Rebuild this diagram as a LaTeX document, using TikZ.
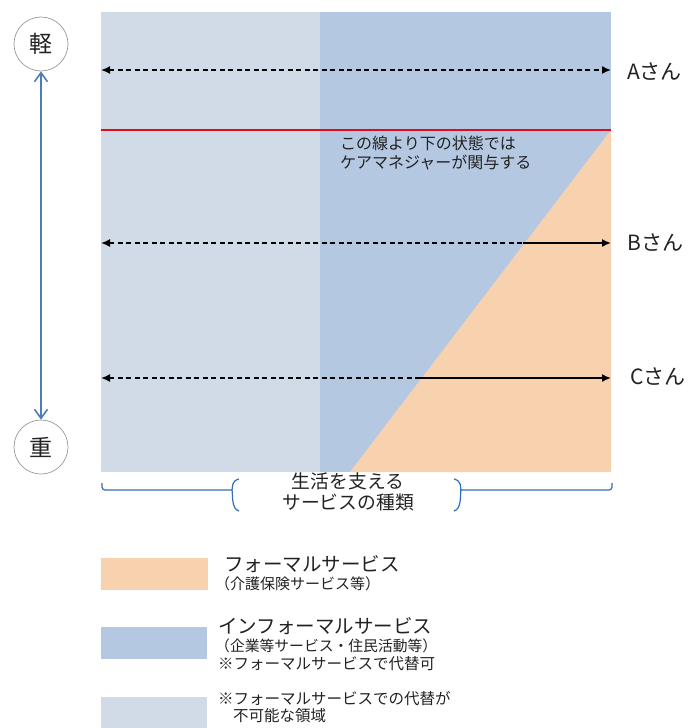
\documentclass[tikz,border=0pt]{standalone}
\usepackage{fontspec}
\setmainfont{Noto Sans CJK JP}
\usetikzlibrary{arrows.meta}
\definecolor{lightarea}{HTML}{D1DBE7}
\definecolor{bluearea}{HTML}{B5C8E2}
\definecolor{orangearea}{HTML}{F8D2AF}
\definecolor{redline}{HTML}{E30A1E}
\definecolor{axisblue}{HTML}{4A7EBB}
\definecolor{bracecol}{HTML}{2F6EB5}
\definecolor{txt}{HTML}{222222}
\tikzset{
  fs/.style 2 args={font=\fontsize{#1}{#2}\selectfont},
  lvl/.style={circle, draw=black!40, line width=0.7pt, minimum size=54pt, inner sep=0pt, fill=white, text=txt, fs={23}{26}},
  patarrow/.style={line width=1.6pt, black},
  tip/.style={-{Latex[length=9pt,width=8pt]}},
  lbl/.style={anchor=west, text=txt, inner sep=0pt},
  leg/.style={anchor=north west, text=txt, inner sep=0pt, align=left},
}
\begin{document}
\begin{tikzpicture}[x=1pt,y=-1pt]
\useasboundingbox (0,0) rectangle (692,728);
% areas
\fill[lightarea] (101,12) rectangle (320,472);
\fill[bluearea] (320,12) rectangle (611,472);
\fill[orangearea] (611,130) -- (350,472) -- (611,472) -- cycle;
% red line
\coordinate (rl) at (101,130);
\coordinate (rr) at (611,130);
\draw[redline, line width=2.2pt] (rl) -- (rr);
\node[lbl, anchor=north west, align=left, fs={16}{18.5}] (note) at (340,136) {この線より下の状態では\\ケアマネジャーが関与する};
% level axis
\node[lvl] (light) at (41,44) {軽};
\node[lvl] (heavy) at (41,447) {重};
\draw[axisblue, line width=1.6pt, {Straight Barb[length=9pt,width=13pt]}-{Straight Barb[length=9pt,width=13pt]}] (light) -- (heavy);
% person arrows
\coordinate (al) at (101,70); \coordinate (ar) at (611,70);
\coordinate (bl) at (101,243); \coordinate (bm) at (523,243); \coordinate (br) at (611,243);
\coordinate (cl) at (101,378); \coordinate (cm) at (416,378); \coordinate (cr) at (611,378);
\draw[patarrow, dash pattern=on 5pt off 3.5pt, {Latex[length=9pt,width=8pt]}-{Latex[length=9pt,width=8pt]}] (al) -- (ar);
\draw[patarrow, dash pattern=on 5pt off 3.5pt, {Latex[length=9pt,width=8pt]}-] (bl) -- (bm);
\draw[patarrow, tip] (bm) -- (br);
\draw[patarrow, dash pattern=on 5pt off 3.5pt, {Latex[length=9pt,width=8pt]}-] (cl) -- (cm);
\draw[patarrow, tip] (cm) -- (cr);
\node[lbl, fs={21}{24}] (pa) at (627,72) {Aさん};
\node[lbl, fs={21}{24}] (pb) at (627,243) {Bさん};
\node[lbl, fs={21}{24}] (pc) at (630,377) {Cさん};
% brace
\coordinate (bl0) at (102,483); \coordinate (br0) at (612,483);
\draw[bracecol, line width=1.2pt] (bl0) -- (102,487) to[out=-90,in=180] (105,490) -- (232,490);
\draw[bracecol, line width=1.2pt] (239,479) .. controls (231,481) and (233,487) .. (232,490) .. controls (233,494) and (231,509) .. (239,511);
\draw[bracecol, line width=1.2pt] (br0) -- (612,487) to[out=-90,in=0] (609,490) -- (460,490);
\draw[bracecol, line width=1.2pt] (454,479) .. controls (462,481) and (460,487) .. (461,490) .. controls (460,494) and (462,509) .. (454,511);
\node[text=txt, align=center, inner sep=0pt, fs={18.8}{20.5}] (kind) at (348,492) {生活を支える\\サービスの種類};
% legend
\fill[orangearea] (101,558) rectangle (208,590);
\fill[bluearea] (101,627) rectangle (207,659);
\fill[lightarea] (101,697) rectangle (207,728);
\node[leg, fs={19.5}{22}] (l1) at (224,555) {フォーマルサービス};
\node[leg, fs={15}{18}] (l1b) at (215,576) {（介護保険サービス等）};
\node[leg, fs={19.5}{22}] (l2) at (218,617) {インフォーマルサービス};
\node[leg, fs={14.8}{17}] (l2b) at (215,639) {（企業等サービス・住民活動等）};
\node[leg, fs={15.5}{18}] (l2c) at (218,656) {※フォーマルサービスで代替可};
\node[leg, fs={15.5}{18}] (l3) at (218,691) {※フォーマルサービスでの代替が};
\node[leg, fs={15.5}{18}] (l3b) at (233,708) {不可能な領域};
\end{tikzpicture}
\end{document}
